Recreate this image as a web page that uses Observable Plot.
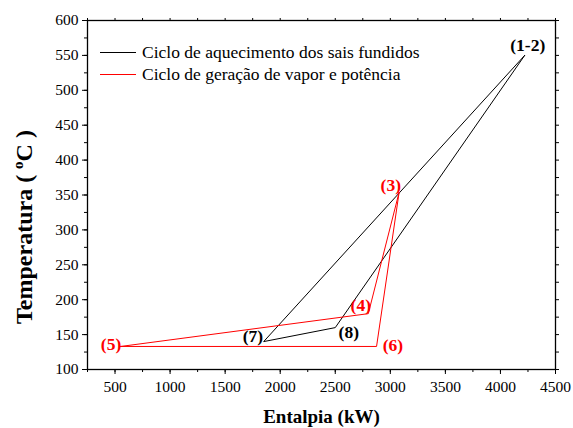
<!DOCTYPE html>
<html><head><meta charset="utf-8">
<script src="https://cdn.jsdelivr.net/npm/d3@7"></script>
<script src="https://cdn.jsdelivr.net/npm/@observablehq/plot@0.6"></script>
<style>
body{margin:0;background:#fff;}
#wrap{position:relative;width:573px;height:428px;}
#wrap svg, #wrap svg text, #wrap svg tspan{font-family:"Liberation Serif", serif !important;}
.legend{position:absolute;left:100px;top:41px;font-family:"Liberation Serif",serif;font-size:17.5px;color:#000;}
.row{display:flex;align-items:center;height:22.5px;white-space:nowrap;}
.sw{width:36px;height:0;border-top:1px solid;margin-right:6px;}
</style></head>
<body><div id="wrap"></div>
<script>
// Ciclo de aquecimento dos sais fundidos (black)
const heatingX = [4220, 1850, 2500, 4220];
const heatingY = [550, 140, 160, 550];
// Ciclo de geração de vapor e potência (red)
const steamX = [550, 2800, 3080, 2875, 550];
const steamY = [133, 180, 354, 133, 133];
// point labels
const labelText = ["(1-2)", "(3)", "(4)", "(5)", "(6)", "(7)", "(8)"];
const labelX = [4248, 3004, 2732, 464, 3023, 1752, 2623];
const labelY = [564, 364, 192, 136, 134, 147, 153];
const labelColor = ["black", "red", "red", "red", "red", "black", "black"];
// ticks
const xTicks = d3.range(500, 4501, 500);
const xMinor = d3.range(250, 4501, 250);
const yTicks = d3.range(100, 601, 50);
const yMinor = d3.range(100, 601, 25);
const seriesNames = ["Ciclo de aquecimento dos sais fundidos", "Ciclo de geração de vapor e potência"];
const seriesColors = ["black", "red"];
const xTitle = "Entalpia (kW)";
const yTitle = "Temperatura ( °C )";

const heating = heatingX.map((x, i) => ({x, y: heatingY[i]}));
const steam = steamX.map((x, i) => ({x, y: steamY[i]}));
const labels = labelText.map((t, i) => ({t, x: labelX[i], y: labelY[i], c: labelColor[i]}));
const fmt = d => String(d);

const plot = Plot.plot({
  width: 573, height: 428,
  marginLeft: 87, marginRight: 18, marginTop: 20, marginBottom: 59,
  style: {fontFamily: "'Liberation Serif', serif", fontSize: "15.5px", color: "black", background: "white"},
  x: {domain: [250, 4500]},
  y: {domain: [100, 600]},
  color: {type: "identity"},
  marks: [
    Plot.axisX({ticks: xMinor, tickSize: 3, fill: "none", label: null}),
    Plot.axisX({ticks: xTicks, tickSize: 5, tickPadding: 6, tickFormat: fmt, label: null}),
    Plot.axisX({anchor: "top", ticks: xMinor, tickSize: 3, fill: "none", label: null}),
    Plot.axisY({ticks: yMinor, tickSize: 3, fill: "none", label: null}),
    Plot.axisY({ticks: yTicks, tickSize: 5, tickPadding: 4, tickFormat: fmt, label: null}),
    Plot.axisY({anchor: "right", ticks: yMinor, tickSize: 3, fill: "none", label: null}),
    Plot.frame({stroke: "black", strokeWidth: 1.3}),
    Plot.line(heating, {x: "x", y: "y", stroke: seriesColors[0], strokeWidth: 1}),
    Plot.line(steam, {x: "x", y: "y", stroke: seriesColors[1], strokeWidth: 1}),
    Plot.text(labels, {x: "x", y: "y", text: "t", fill: "c", fontSize: 17.5, fontWeight: "bold"}),
    Plot.text([xTitle], {frameAnchor: "bottom", dy: 47, lineAnchor: "middle", fontSize: 19, fontWeight: "bold", text: d => d}),
    Plot.text([yTitle], {frameAnchor: "left", dx: -63, dy: 32, rotate: -90, textAnchor: "middle", lineAnchor: "middle", fontSize: 24, fontWeight: "bold", text: d => d})
  ]
});

// superscript "o" in the y title
d3.select(plot).selectAll("text").each(function() {
  if (this.textContent === yTitle) {
    const t = d3.select(this);
    t.text(null);
    t.append("tspan").text("Temperatura ( ");
    t.append("tspan").attr("dy", "-9px").attr("font-size", "15px").text("o");
    t.append("tspan").attr("dy", "9px").text("C )");
  }
});

const wrap = document.getElementById("wrap");
wrap.appendChild(plot);
const legend = document.createElement("div");
legend.className = "legend";
seriesNames.forEach((name, i) => {
  const row = document.createElement("div");
  row.className = "row";
  const sw = document.createElement("span");
  sw.className = "sw";
  sw.style.borderTopColor = seriesColors[i];
  const tx = document.createElement("span");
  tx.textContent = name;
  row.appendChild(sw);
  row.appendChild(tx);
  legend.appendChild(row);
});
wrap.appendChild(legend);
</script>
</body></html>
